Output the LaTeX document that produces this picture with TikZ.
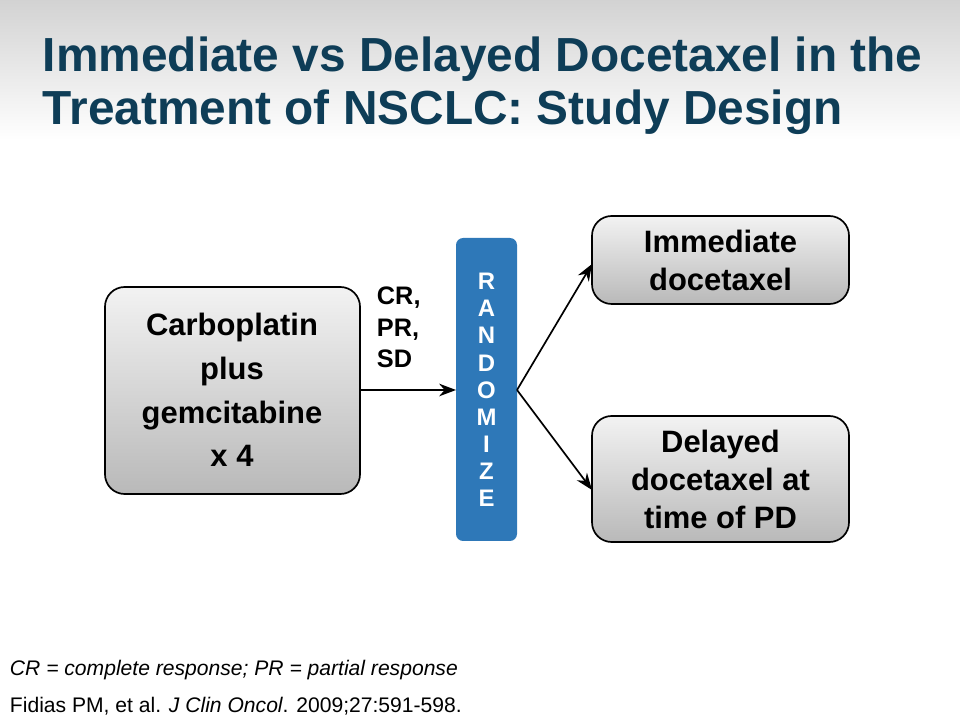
\documentclass[tikz,border=0pt]{standalone}
\usepackage{fontspec}
\setmainfont{Liberation Sans}
\usetikzlibrary{positioning,arrows.meta}
\definecolor{titleblue}{HTML}{0E3D57}
\definecolor{randblue}{HTML}{2E78B8}
\tikzset{
  armbox/.style={draw=black, line width=1.2pt, rounded corners=14pt, top color=gray!10, bottom color=gray!55},
  armtext/.style={align=center, font=\bfseries\fontsize{22}{27}\selectfont},
  flow/.style={-{Stealth[length=12pt,width=9pt]}, line width=1.2pt}
}
\begin{document}
\begin{tikzpicture}[x=0.025cm,y=-0.025cm]
  \useasboundingbox (0,0) rectangle (960,720);
  % Header band
  \shade[top color=gray!35, bottom color=white] (0,0) rectangle (960,140);
  \node[anchor=west, align=left, text=titleblue, font=\bfseries\fontsize{34}{38}\selectfont] (title) at (38,86) {Immediate vs Delayed Docetaxel in the\\Treatment of NSCLC: Study Design};

  % Boxes
  \path[armbox] (105,287) rectangle (360,494);
  \node[armtext, font=\bfseries\fontsize{22}{31}\selectfont] (chemo) at (232,390) {Carboplatin\\plus\\gemcitabine\\x 4};
  \coordinate (chemoR) at (360,390);

  \fill[randblue, rounded corners=5pt] (456,238) rectangle (517,541);
  \node[text=white, align=center, font=\bfseries\fontsize{17}{19.3}\selectfont] (rand) at (486.5,390) {R\\A\\N\\D\\O\\M\\I\\Z\\E};
  \coordinate (randL) at (456,390);
  \coordinate (randR) at (517,390);

  \path[armbox] (592,216) rectangle (849,304);
  \node[armtext] (immed) at (720.5,260) {Immediate\\docetaxel};
  \coordinate (immedL) at (592,264);

  \path[armbox] (592,416) rectangle (849,542);
  \node[armtext] (delay) at (720.5,479) {Delayed\\docetaxel at\\time of PD};
  \coordinate (delayL) at (592,490);

  % Arrows
  \draw[flow] (chemoR) -- (randL);
  \node[anchor=north west, align=left, font=\bfseries\fontsize{18}{22.5}\selectfont] (resp) at (372,282) {CR,\\PR,\\SD};
  \draw[flow] (randR) -- (immedL);
  \draw[flow] (randR) -- (delayL);

  % Footnotes
  \node[anchor=west, font=\itshape\fontsize{15}{18}\selectfont] (abbr) at (5,670) {CR = complete response; PR = partial response};
  \node[anchor=west, font=\fontsize{15}{18}\selectfont] (ref) at (5,706) {Fidias PM, et al. \textit{J Clin Oncol}. 2009;27:591-598.};
\end{tikzpicture}
\end{document}
